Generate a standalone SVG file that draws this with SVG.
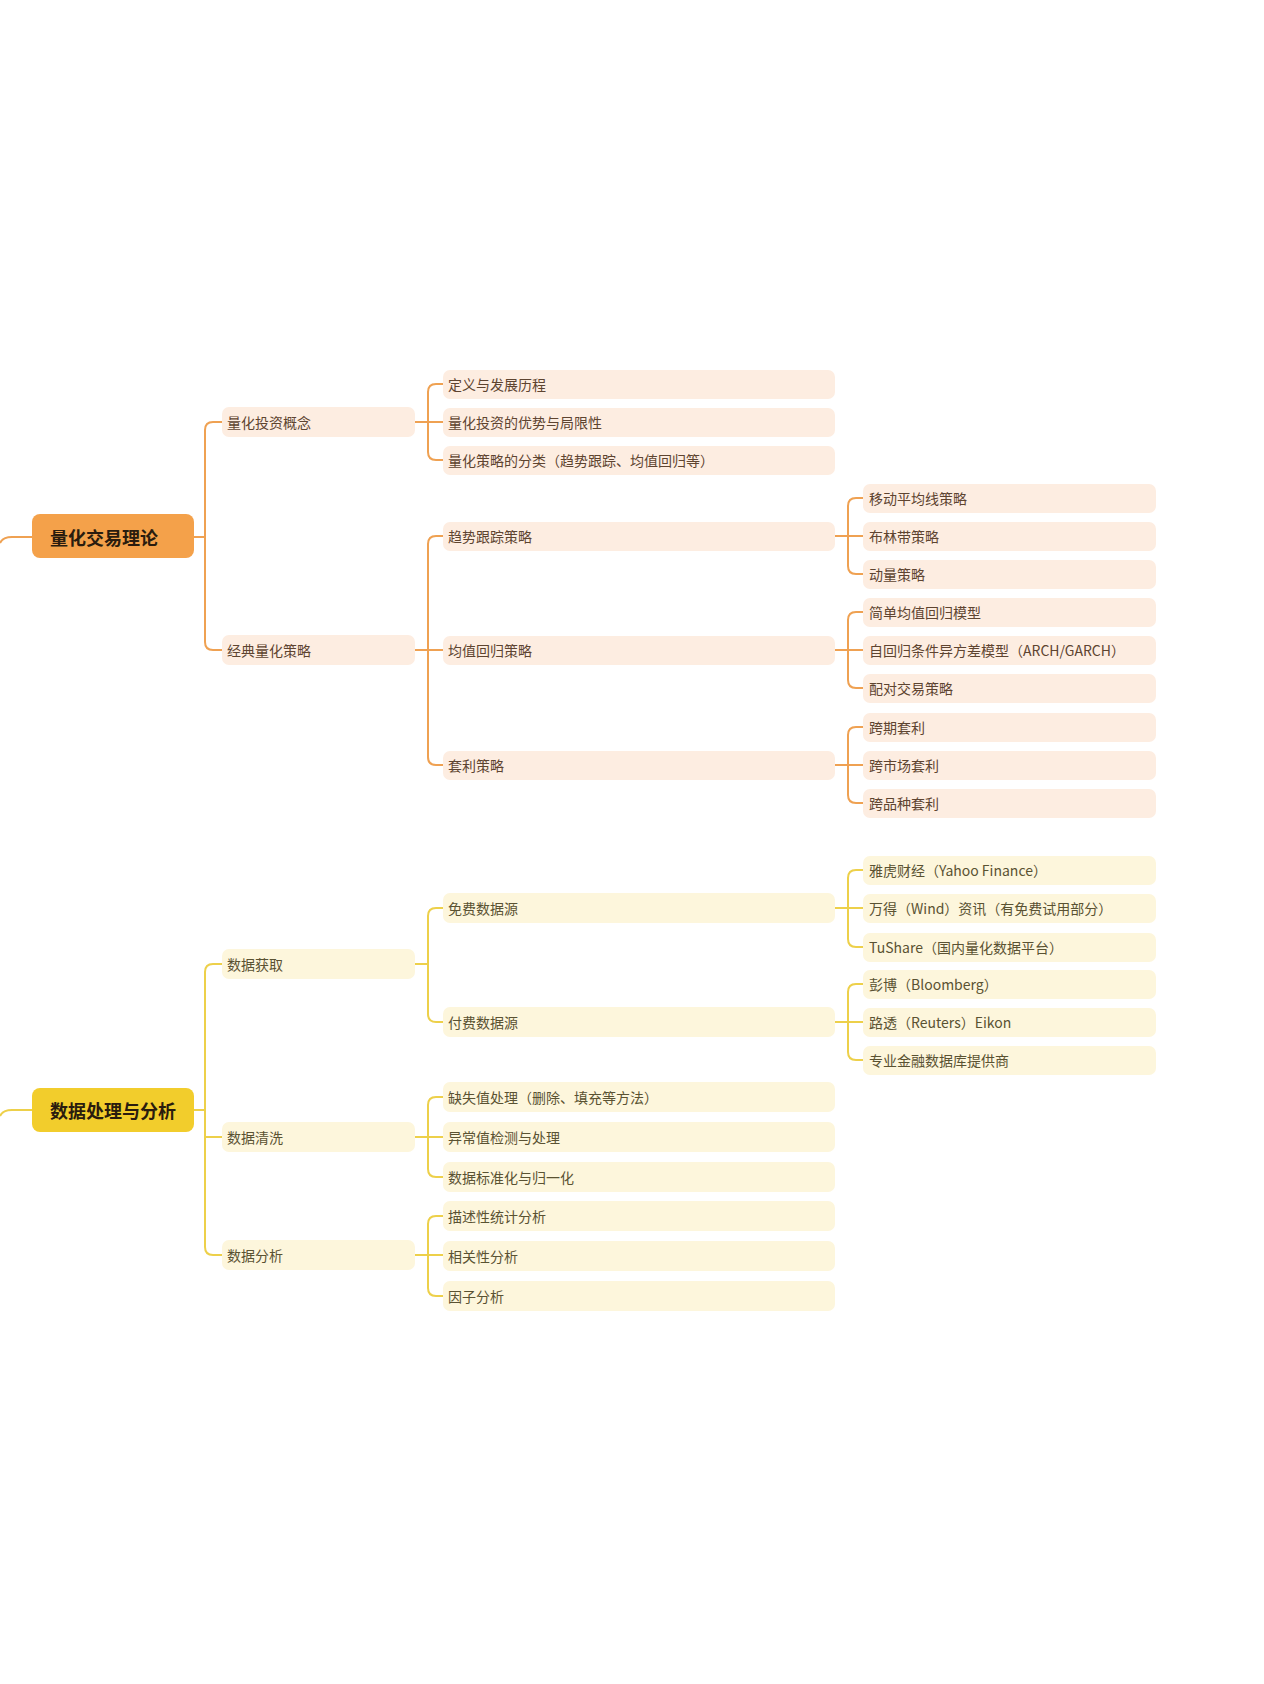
<svg xmlns="http://www.w3.org/2000/svg" width="1264" height="1684" viewBox="0 0 1264 1684">
<style>
text{font-family:"Noto Sans CJK SC","Noto Sans",sans-serif;font-size:14px;dominant-baseline:central}
.root text{font-size:18px;font-weight:bold;fill:#2a1c0e}
.o rect{fill:#FDEDE1}
.o text{fill:#5E4430}
.y rect{fill:#FDF6DC}
.y text{fill:#5A5232}
.lo{fill:none;stroke:#EFA152;stroke-width:2}
.ly{fill:none;stroke:#EDD04A;stroke-width:2}
</style>
<rect width="1264" height="1684" fill="#ffffff"/>
<g id="connectors">
<path class="lo" d="M0,543 Q3,537 12,537 H32"/>
<path class="lo" d="M194,537 H205 M222,422 H213 Q205,422 205,430 V642 Q205,650 213,650 H222"/>
<path class="lo" d="M415,422 H443 M443,384 H436 Q428,384 428,392 V452 Q428,460 436,460 H443"/>
<path class="lo" d="M415,650 H443 M443,536 H436 Q428,536 428,544 V757 Q428,765 436,765 H443"/>
<path class="lo" d="M835,536 H863 M863,498 H856 Q848,498 848,506 V566 Q848,574 856,574 H863"/>
<path class="lo" d="M835,650 H863 M863,612 H856 Q848,612 848,620 V680 Q848,688 856,688 H863"/>
<path class="lo" d="M835,765 H863 M863,727 H856 Q848,727 848,735 V795 Q848,803 856,803 H863"/>
<path class="ly" d="M0,1116 Q3,1110 12,1110 H32"/>
<path class="ly" d="M194,1110 H205 M222,964 H213 Q205,964 205,972 V1247 Q205,1255 213,1255 H222 M205,1137 H222"/>
<path class="ly" d="M415,964 H428 M443,908 H436 Q428,908 428,916 V1014 Q428,1022 436,1022 H443"/>
<path class="ly" d="M835,908 H863 M863,870 H856 Q848,870 848,878 V939 Q848,947 856,947 H863"/>
<path class="ly" d="M835,1022 H863 M863,984 H856 Q848,984 848,992 V1052 Q848,1060 856,1060 H863"/>
<path class="ly" d="M415,1137 H443 M443,1097 H436 Q428,1097 428,1105 V1169 Q428,1177 436,1177 H443"/>
<path class="ly" d="M415,1255 H443 M443,1216 H436 Q428,1216 428,1224 V1288 Q428,1296 436,1296 H443"/>
</g>
<g class="root" id="n-root1"><rect x="32" y="514" width="162" height="44" rx="8" fill="#F4A14A"/><text x="50" y="537">量化交易理论</text></g>
<g class="o">
<g id="n-concept"><rect x="222" y="407" width="193" height="30" rx="7"/><text x="227" y="422">量化投资概念</text></g>
<g id="n-classic"><rect x="222" y="635" width="193" height="30" rx="7"/><text x="227" y="650">经典量化策略</text></g>
<g id="n-def"><rect x="443" y="370" width="392" height="29" rx="7"/><text x="448" y="384">定义与发展历程</text></g>
<g id="n-adv"><rect x="443" y="408" width="392" height="29" rx="7"/><text x="448" y="422">量化投资的优势与局限性</text></g>
<g id="n-cls"><rect x="443" y="446" width="392" height="29" rx="7"/><text x="448" y="460">量化策略的分类（趋势跟踪、均值回归等）</text></g>
<g id="n-trend"><rect x="443" y="522" width="392" height="29" rx="7"/><text x="448" y="536">趋势跟踪策略</text></g>
<g id="n-mean"><rect x="443" y="636" width="392" height="29" rx="7"/><text x="448" y="650">均值回归策略</text></g>
<g id="n-arb"><rect x="443" y="751" width="392" height="29" rx="7"/><text x="448" y="765">套利策略</text></g>
<g id="n-ma"><rect x="863" y="484" width="293" height="29" rx="7"/><text x="869" y="498">移动平均线策略</text></g>
<g id="n-boll"><rect x="863" y="522" width="293" height="29" rx="7"/><text x="869" y="536">布林带策略</text></g>
<g id="n-mom"><rect x="863" y="560" width="293" height="29" rx="7"/><text x="869" y="574">动量策略</text></g>
<g id="n-smr"><rect x="863" y="598" width="293" height="29" rx="7"/><text x="869" y="612">简单均值回归模型</text></g>
<g id="n-garch"><rect x="863" y="636" width="293" height="29" rx="7"/><text x="869" y="650">自回归条件异方差模型（ARCH/GARCH）</text></g>
<g id="n-pair"><rect x="863" y="674" width="293" height="29" rx="7"/><text x="869" y="688">配对交易策略</text></g>
<g id="n-cal"><rect x="863" y="713" width="293" height="29" rx="7"/><text x="869" y="727">跨期套利</text></g>
<g id="n-mkt"><rect x="863" y="751" width="293" height="29" rx="7"/><text x="869" y="765">跨市场套利</text></g>
<g id="n-var"><rect x="863" y="789" width="293" height="29" rx="7"/><text x="869" y="803">跨品种套利</text></g>
</g>
<g class="root" id="n-root2"><rect x="32" y="1088" width="162" height="44" rx="8" fill="#F2CD2C"/><text x="50" y="1110">数据处理与分析</text></g>
<g class="y">
<g id="n-get"><rect x="222" y="949" width="193" height="30" rx="7"/><text x="227" y="964">数据获取</text></g>
<g id="n-clean"><rect x="222" y="1122" width="193" height="30" rx="7"/><text x="227" y="1137">数据清洗</text></g>
<g id="n-ana"><rect x="222" y="1240" width="193" height="30" rx="7"/><text x="227" y="1255">数据分析</text></g>
<g id="n-free"><rect x="443" y="893" width="392" height="30" rx="7"/><text x="448" y="908">免费数据源</text></g>
<g id="n-paid"><rect x="443" y="1007" width="392" height="30" rx="7"/><text x="448" y="1022">付费数据源</text></g>
<g id="n-miss"><rect x="443" y="1082" width="392" height="30" rx="7"/><text x="448" y="1097">缺失值处理（删除、填充等方法）</text></g>
<g id="n-out"><rect x="443" y="1122" width="392" height="30" rx="7"/><text x="448" y="1137">异常值检测与处理</text></g>
<g id="n-norm"><rect x="443" y="1162" width="392" height="30" rx="7"/><text x="448" y="1177">数据标准化与归一化</text></g>
<g id="n-desc"><rect x="443" y="1201" width="392" height="30" rx="7"/><text x="448" y="1216">描述性统计分析</text></g>
<g id="n-corr"><rect x="443" y="1241" width="392" height="30" rx="7"/><text x="448" y="1256">相关性分析</text></g>
<g id="n-factor"><rect x="443" y="1281" width="392" height="30" rx="7"/><text x="448" y="1296">因子分析</text></g>
<g id="n-yahoo"><rect x="863" y="856" width="293" height="29" rx="7"/><text x="869" y="870">雅虎财经（Yahoo Finance）</text></g>
<g id="n-wind"><rect x="863" y="894" width="293" height="29" rx="7"/><text x="869" y="908">万得（Wind）资讯（有免费试用部分）</text></g>
<g id="n-tushare"><rect x="863" y="933" width="293" height="29" rx="7"/><text x="869" y="947">TuShare（国内量化数据平台）</text></g>
<g id="n-bloom"><rect x="863" y="970" width="293" height="29" rx="7"/><text x="869" y="984">彭博（Bloomberg）</text></g>
<g id="n-reuters"><rect x="863" y="1008" width="293" height="29" rx="7"/><text x="869" y="1022">路透（Reuters）Eikon</text></g>
<g id="n-pro"><rect x="863" y="1046" width="293" height="29" rx="7"/><text x="869" y="1060">专业金融数据库提供商</text></g>
</g>
</svg>
